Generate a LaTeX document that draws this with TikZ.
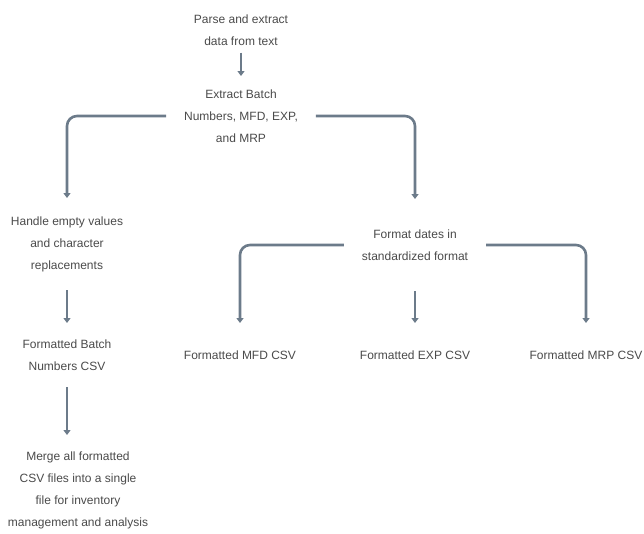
\documentclass[tikz,border=0pt]{standalone}
\usepackage{fontspec}
\setmainfont{Liberation Sans}
\usetikzlibrary{positioning}
\usetikzlibrary{arrows.meta}
\definecolor{linegray}{HTML}{6C7B8A}
\definecolor{textgray}{HTML}{4A4A4A}

\begin{document}
\begin{tikzpicture}
	[x=1pt,y=-1pt,
	 stage/.style={align=center,text=textgray,font=\fontsize{12}{22}\selectfont,inner xsep=18pt,inner ysep=0pt,outer sep=0pt},
	 flow/.style={line width=2.6pt,linegray,-{Triangle[length=5pt,width=7pt]}},
	 branch/.style={flow,rounded corners=10pt}]

	\useasboundingbox (0,0) rectangle (644,533);

	\node[stage,minimum height=45pt] (parse) at (241,30) {Parse and extract\\data from text};
	\node[stage,minimum height=80pt] (extract) at (241,116) {Extract Batch\\Numbers, MFD, EXP,\\and MRP};
	\node[stage,minimum height=92pt] (handle) at (67,244) {Handle empty values\\and character\\replacements};
	\node[stage,minimum height=92pt] (dates) at (415,245) {Format dates in\\standardized format};
	\node[stage,minimum height=64pt] (batchcsv) at (67,355) {Formatted Batch\\Numbers CSV};
	\node[stage,minimum height=64pt] (mfdcsv) at (240,355) {Formatted MFD CSV};
	\node[stage,minimum height=64pt] (expcsv) at (415,355) {Formatted EXP CSV};
	\node[stage,minimum height=64pt] (mrpcsv) at (586,355) {Formatted MRP CSV};
	\node[stage,minimum height=110pt] (merge) at (78,490) {Merge all formatted\\CSV files into a single\\file for inventory\\management and  analysis};

	\draw[flow] (parse) -- (extract);
	\draw[branch] (extract.west) -| (handle.north);
	\draw[branch] (extract.east) -| (dates.north);
	\draw[flow] (handle) -- (batchcsv);
	\draw[branch] (dates.west) -| (mfdcsv.north);
	\draw[flow] (dates) -- (expcsv);
	\draw[branch] (dates.east) -| (mrpcsv.north);
	\draw[flow] (batchcsv.south) -- (batchcsv.south |- merge.north);
\end{tikzpicture}
\end{document}
